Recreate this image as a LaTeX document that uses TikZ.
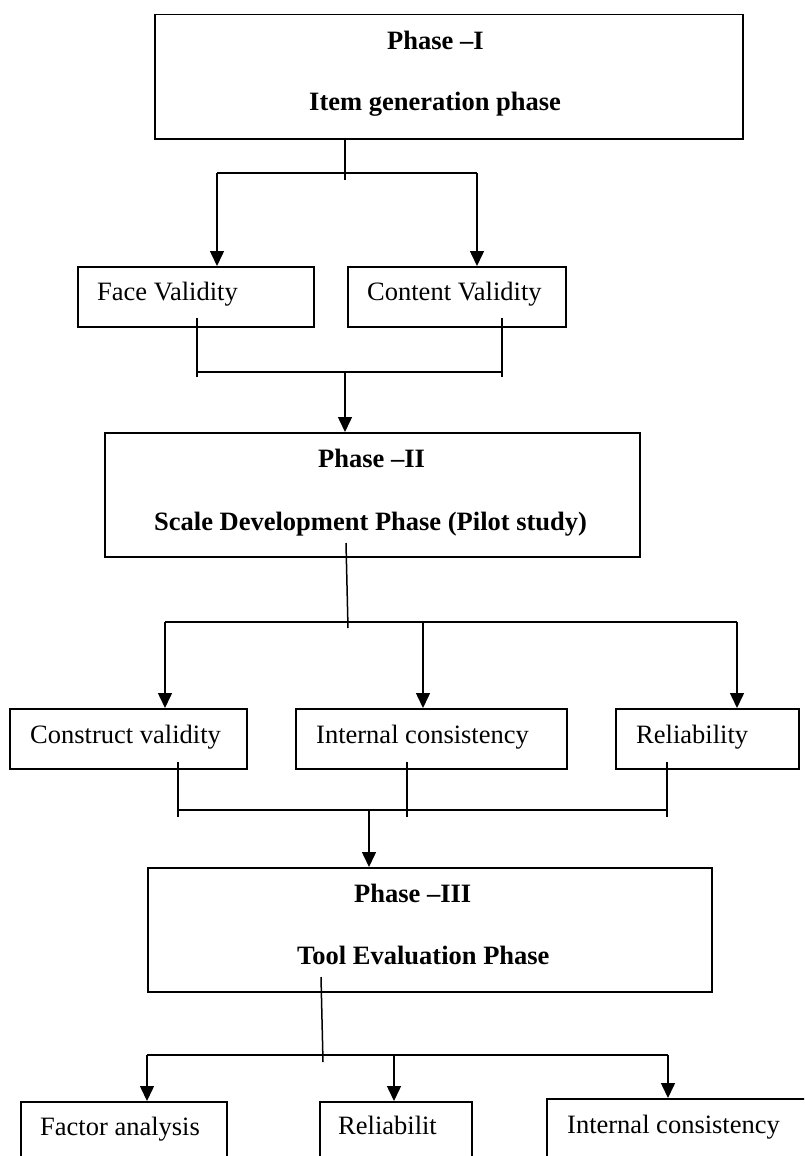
\documentclass[tikz,border=0pt]{standalone}
\usepackage{fontspec}
\setmainfont{Liberation Serif}
\usetikzlibrary{arrows.meta}
\begin{document}
\begin{tikzpicture}[x=1pt,y=-1pt,
  box/.style={draw, line width=1.5pt, inner sep=0pt, anchor=north west},
  tx/.style={inner sep=0pt, anchor=base west, font=\fontsize{26.5}{30}\selectfont},
  bt/.style={inner sep=0pt, anchor=base west, font=\fontsize{26.5}{30}\selectfont\bfseries},
  ln/.style={line width=1.5pt},
  arr/.style={line width=1.5pt, -{Triangle[width=14pt,length=15pt]}}]
\useasboundingbox (0,0) rectangle (804,1156);
\clip (0,0) rectangle (804,1156);

% boxes
\node[box, minimum width=588pt, minimum height=124pt] (p1) at (154,14) {};
\node[box, minimum width=236pt, minimum height=60pt] (fv) at (77,266) {};
\node[box, minimum width=218pt, minimum height=60pt] (cv) at (347,266) {};
\node[box, minimum width=535pt, minimum height=124pt] (p2) at (104,432) {};
\node[box, minimum width=237pt, minimum height=60pt] (cs) at (9,708) {};
\node[box, minimum width=271pt, minimum height=60pt] (ic) at (295,708) {};
\node[box, minimum width=183pt, minimum height=60pt] (rl) at (615,708) {};
\node[box, minimum width=564pt, minimum height=124pt] (p3) at (147,867) {};
\node[box, minimum width=206pt, minimum height=80pt] (fa) at (20,1101) {};
\node[box, minimum width=152pt, minimum height=80pt] (rb) at (319,1101) {};
\node[box, minimum width=270pt, minimum height=80pt] (ic2) at (546,1098) {};

% texts
\node[bt] (t1a) at (387,50) {Phase –I};
\node[bt] (t1b) at (309,110) {Item generation phase};
\node[tx] (tfv) at (97,300) {Face Validity};
\node[tx] (tcv) at (367,300) {Content Validity};
\node[bt] (t2a) at (318,467) {Phase –II};
\node[bt] (t2b) at (154,530) {Scale Development Phase (Pilot study)};
\node[tx] (tcs) at (30,743) {Construct validity};
\node[tx] (tic) at (316,743) {Internal consistency};
\node[tx] (trl) at (636,743) {Reliability};
\node[bt] (t3a) at (354,902) {Phase –III};
\node[bt] (t3b) at (297,964) {Tool Evaluation Phase};
\node[tx] (tfa) at (40,1135) {Factor analysis};
\node[tx] (trb) at (338,1134) {Reliabilit};
\node[tx] (tic2) at (567,1133) {Internal consistency};

% phase I -> validities
\coordinate (s1) at (345,180);
\coordinate (b1l) at (217,173);
\coordinate (b1r) at (477,173);
\draw[ln] (p1.south -| s1) -- (s1);
\draw[ln] (b1l) -- (b1r);
\draw[arr] (b1l) -- (fv.north -| b1l);
\draw[arr] (b1r) -- (cv.north -| b1r);

% validities -> phase II
\coordinate (fvo) at (197,318);
\coordinate (fve) at (197,377);
\coordinate (cvo) at (502,318);
\coordinate (cve) at (502,377);
\coordinate (b2l) at (197,372);
\coordinate (b2r) at (502,372);
\coordinate (b2m) at (345,372);
\draw[ln] (fvo) -- (fve);
\draw[ln] (cvo) -- (cve);
\draw[ln] (b2l) -- (b2r);
\draw[arr] (b2m) -- (p2.north -| b2m);

% phase II -> three boxes
\coordinate (s2o) at (346,543);
\coordinate (s2e) at (348,628);
\coordinate (b3l) at (165,622);
\coordinate (b3m) at (423,622);
\coordinate (b3r) at (737,622);
\draw[ln] (s2o) -- (s2e);
\draw[ln] (b3l) -- (b3r);
\draw[arr] (b3l) -- (cs.north -| b3l);
\draw[arr] (b3m) -- (ic.north -| b3m);
\draw[arr] (b3r) -- (rl.north -| b3r);

% three boxes -> phase III
\coordinate (cso) at (178,762);
\coordinate (cse) at (178,817);
\coordinate (ico) at (407,762);
\coordinate (ice) at (407,817);
\coordinate (rlo) at (667,762);
\coordinate (rle) at (667,817);
\coordinate (b4l) at (178,810);
\coordinate (b4r) at (667,810);
\coordinate (b4m) at (369,810);
\draw[ln] (cso) -- (cse);
\draw[ln] (ico) -- (ice);
\draw[ln] (rlo) -- (rle);
\draw[ln] (b4l) -- (b4r);
\draw[arr] (b4m) -- (p3.north -| b4m);

% phase III -> bottom boxes
\coordinate (s3o) at (321,977);
\coordinate (s3e) at (323,1062);
\coordinate (b5l) at (147,1055);
\coordinate (b5m) at (394,1055);
\coordinate (b5r) at (668,1055);
\draw[ln] (s3o) -- (s3e);
\draw[ln] (b5l) -- (b5r);
\draw[arr] (b5l) -- (fa.north -| b5l);
\draw[arr] (b5m) -- (rb.north -| b5m);
\draw[arr] (b5r) -- (ic2.north -| b5r);
\end{tikzpicture}
\end{document}
